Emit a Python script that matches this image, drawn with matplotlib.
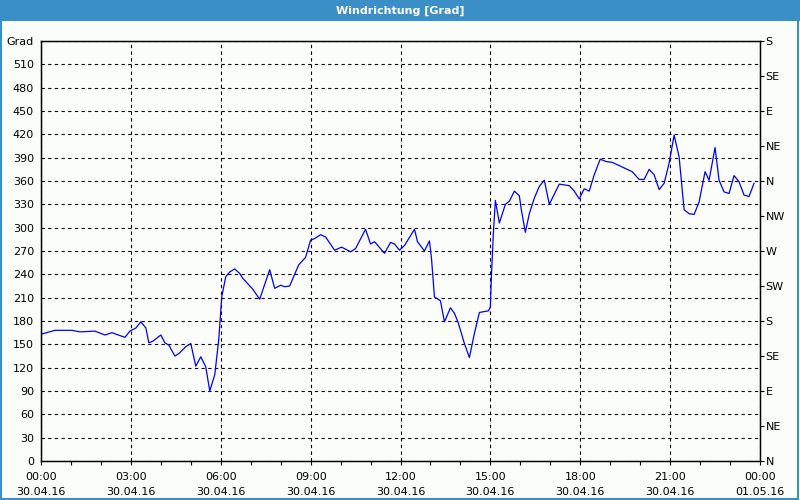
import numpy as np
import matplotlib.pyplot as plt
from matplotlib.patches import Rectangle

# Minuten ab 30.04.16 00:00 und Windrichtung in Grad
minuten = [0, 28, 62, 78, 108, 128, 142, 168, 178, 190, 200, 210, 216, 224, 240, 248,
           256, 268, 276, 290, 300, 310, 320, 330, 338, 348, 356, 362, 370, 378, 388,
           398, 404, 424, 438, 458, 468, 480, 488, 498, 516, 530, 540, 548, 560, 570,
           588, 602, 620, 630, 650, 660, 668, 688, 700, 708, 718, 728, 748, 754, 768,
           778, 782, 788, 800, 808, 820, 828, 836, 848, 858, 868, 878, 896, 900, 902,
           906, 910, 918, 930, 938, 948, 958, 962, 970, 978, 988, 998, 1008, 1018,
           1038, 1058, 1068, 1078, 1088, 1098, 1108, 1120, 1132, 1144, 1164, 1184,
           1198, 1208, 1218, 1228, 1238, 1248, 1258, 1268, 1278, 1288, 1298, 1308,
           1318, 1330, 1338, 1350, 1358, 1368, 1378, 1388, 1398, 1408, 1418, 1428]
grad = [163, 168, 168, 166, 167, 162, 165, 159, 167, 171, 179, 171, 152, 154, 162, 152,
        149, 135, 138, 147, 151, 122, 134, 121, 90, 111, 156, 211, 237, 243, 247,
        241, 235, 221, 208, 246, 222, 226, 224, 225, 252, 262, 284, 286, 291, 288,
        271, 275, 269, 273, 298, 279, 282, 267, 281, 279, 271, 277, 298, 282, 270,
        283, 261, 211, 206, 179, 197, 190, 177, 151, 133, 164, 191, 193, 198, 237,
        293, 335, 306, 330, 334, 347, 341, 323, 294, 318, 338, 353, 361, 330,
        356, 354, 347, 337, 350, 347, 368, 388, 385, 384, 378, 372,
        362, 362, 375, 368, 349, 357, 383, 419, 391, 323, 318, 317,
        333, 372, 361, 403, 361, 346, 344, 367, 359, 342, 340, 357]

x_labels = ["00:00\n30.04.16", "03:00\n30.04.16", "06:00\n30.04.16", "09:00\n30.04.16",
            "12:00\n30.04.16", "15:00\n30.04.16", "18:00\n30.04.16", "21:00\n30.04.16",
            "00:00\n01.05.16"]
richtungen = ["N", "NE", "E", "SE", "S", "SW", "W", "NW", "N", "NE", "E", "SE", "S"]

stunden = np.array(minuten) / 60.0

fig = plt.figure(figsize=(8, 5), dpi=100, facecolor='#fbfdfb')
plt.rcParams['font.family'] = 'DejaVu Sans'

# Titelleiste
fig.patches.append(Rectangle((0, 0.958), 1, 0.042, transform=fig.transFigure,
                             facecolor='#3a8fc7', edgecolor='none'))
fig.patches.append(Rectangle((0.001, 0.002), 0.997, 0.996, transform=fig.transFigure,
                             facecolor='none', edgecolor='#3a8fc7', linewidth=1.5))
fig.text(0.5, 0.979, "Windrichtung [Grad]", color='white', fontsize=8, fontweight='bold',
         ha='center', va='center')

ax = fig.add_axes([41/800, 1-461/500, 719/800, 420/500])
ax.set_facecolor('#fbfdfb')
ax.plot(stunden, grad, color='#0000ff', linewidth=0.9)

ax.set_xlim(0, 24)
ax.set_ylim(0, 540)
ax.set_xticks(np.arange(0, 25, 3))
ax.set_xticklabels(x_labels, fontsize=8, linespacing=1.55)
ax.set_xticks(np.arange(0, 25, 1), minor=True)
ax.set_yticks(np.arange(0, 541, 30))
ax.set_yticklabels([str(v) for v in range(0, 540, 30)] + ["Grad"], fontsize=8)
ax.tick_params(axis='x', which='both', direction='out', length=3, width=0.8, pad=5)
ax.tick_params(axis='y', length=0, pad=5)
ax.grid(True, which='major', color='black', linestyle=(0, (3, 3)), linewidth=0.8)
for s in ax.spines.values():
    s.set_color('black')
    s.set_linewidth(1)

ax2 = ax.twinx()
ax2.set_ylim(0, 540)
ax2.set_yticks(np.arange(0, 541, 45))
ax2.set_yticklabels(richtungen, fontsize=8)
ax2.tick_params(axis='y', direction='out', length=3, width=0.8, pad=1)

plt.savefig('out.png', dpi=100, facecolor=fig.get_facecolor())
plt.close()
